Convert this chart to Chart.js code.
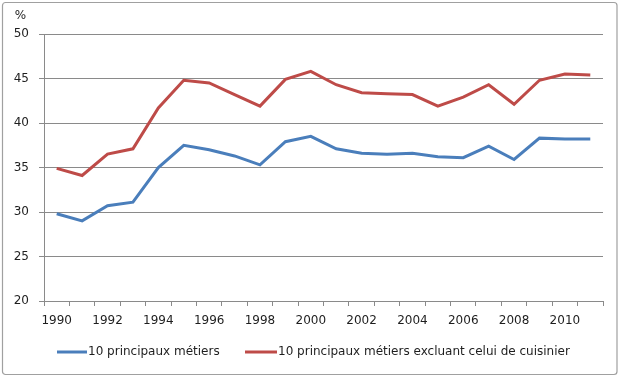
<!DOCTYPE html>
<html>
<head>
<meta charset="utf-8">
<script src="https://cdn.jsdelivr.net/npm/chart.js@4/dist/chart.umd.min.js"></script>
<style>
html,body{margin:0;padding:0;background:#fff;}
#wrap{position:relative;width:621px;height:378px;}
</style>
</head>
<body>
<div id="wrap"><canvas id="c" width="621" height="378"></canvas></div>
<script>
// ---- data ----
const years = ['1990','1991','1992','1993','1994','1995','1996','1997','1998','1999','2000',
               '2001','2002','2003','2004','2005','2006','2007','2008','2009','2010','2011'];
const xTickLabels = ['1990','1992','1994','1996','1998','2000','2002','2004','2006','2008','2010'];
const seriesNames = ['10 principaux métiers', '10 principaux métiers excluant celui de cuisinier'];
const principaux = [29.8, 29.0, 30.7, 31.1, 35.0, 37.5, 37.0, 36.3, 35.3, 37.9, 38.5,
                    37.1, 36.6, 36.5, 36.6, 36.2, 36.1, 37.4, 35.9, 38.3, 38.2, 38.2];
const excluantCuisinier = [34.9, 34.1, 36.5, 37.1, 41.7, 44.8, 44.5, 43.2, 41.9, 44.9, 45.8,
                           44.3, 43.4, 43.3, 43.2, 41.9, 42.9, 44.3, 42.1, 44.8, 45.5, 45.4];
const yTickValues = [20, 25, 30, 35, 40, 45, 50];
const unitLabel = '%';

const BLUE = '#4A7EBB';
const RED = '#BE4B48';
const GRID = '#8a8a8a';
const TEXT = '#1e1e1e';
const FONT = 'DejaVu Sans';

const decorPlugin = {
  id: 'decor',
  beforeDraw(chart) {
    const ctx = chart.ctx;
    ctx.save();
    ctx.fillStyle = '#fff';
    ctx.fillRect(0, 0, chart.width, chart.height);
    ctx.strokeStyle = '#a0a0a0';
    ctx.lineWidth = 1.2;
    ctx.beginPath();
    ctx.roundRect(2.5, 2.5, 614.5, 372, 3);
    ctx.stroke();
    ctx.restore();
  },
  afterDraw(chart) {
    const ctx = chart.ctx;
    ctx.save();
    ctx.fillStyle = TEXT;
    ctx.font = '12px "' + FONT + '"';
    ctx.textBaseline = 'middle';
    ctx.textAlign = 'center';
    ctx.fillText(unitLabel, 20.5, 16);
    // legend
    const ly = 352;
    const items = [
      {x: 57, w: 30, color: chart.data.datasets[0].borderColor, text: chart.data.datasets[0].label},
      {x: 245, w: 32, color: chart.data.datasets[1].borderColor, text: chart.data.datasets[1].label}
    ];
    ctx.textAlign = 'left';
    items.forEach(it => {
      ctx.strokeStyle = it.color;
      ctx.lineWidth = 3;
      ctx.beginPath();
      ctx.moveTo(it.x, ly);
      ctx.lineTo(it.x + it.w, ly);
      ctx.stroke();
      ctx.fillStyle = TEXT;
      ctx.fillText(it.text, it.x + it.w + 1, ly);
    });
    ctx.restore();
  }
};

new Chart(document.getElementById('c'), {
  type: 'line',
  data: {
    labels: years,
    datasets: [
      {label: seriesNames[0], data: principaux, borderColor: BLUE, backgroundColor: BLUE,
       borderWidth: 3, pointRadius: 0, tension: 0, fill: false},
      {label: seriesNames[1], data: excluantCuisinier, borderColor: RED, backgroundColor: RED,
       borderWidth: 3, pointRadius: 0, tension: 0, fill: false}
    ]
  },
  options: {
    responsive: false,
    devicePixelRatio: 1,
    animation: false,
    layout: {padding: {top: 34, right: 18, left: 0, bottom: 0}},
    plugins: {legend: {display: false}, tooltip: {enabled: false}},
    scales: {
      x: {
        type: 'category',
        offset: true,
        grid: {offset: true, drawOnChartArea: false, drawTicks: true, tickLength: 5, color: GRID},
        border: {display: true, color: GRID, width: 1},
        ticks: {
          autoSkip: false, maxRotation: 0, minRotation: 0, padding: 8,
          color: TEXT, font: {family: FONT, size: 12},
          callback: function(v, i) {
            const lab = this.getLabelForValue(v);
            return xTickLabels.includes(lab) ? lab : '';
          }
        },
        afterFit(scale) { scale.height = 77; }
      },
      y: {
        min: yTickValues[0], max: yTickValues[yTickValues.length - 1],
        grid: {color: GRID, tickLength: 5, drawTicks: true},
        border: {display: true, color: GRID, width: 1},
        afterBuildTicks(scale) { scale.ticks = yTickValues.map(v => ({value: v})); },
        ticks: {padding: 10, color: TEXT, font: {family: FONT, size: 12}},
        afterFit(scale) { scale.width = 44; }
      }
    }
  },
  plugins: [decorPlugin]
});
</script>
</body>
</html>
